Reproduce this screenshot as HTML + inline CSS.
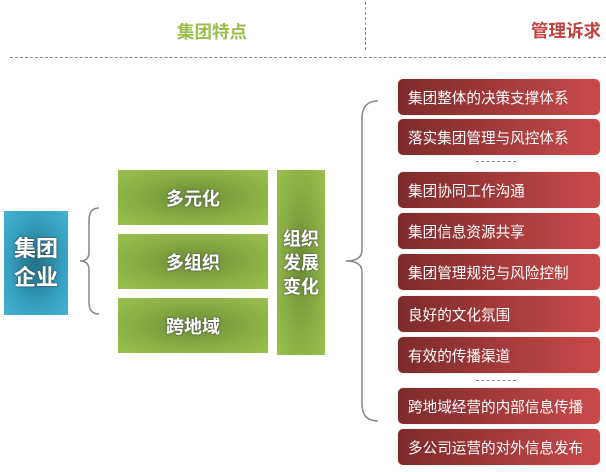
<!DOCTYPE html>
<html><head><meta charset="utf-8"><style>
body{margin:0;width:606px;height:472px;background:#fff;position:relative;overflow:hidden;font-family:"Liberation Sans","Noto Sans CJK SC",sans-serif}
.a{position:absolute;box-sizing:border-box;display:flex;align-items:center;justify-content:center;color:#fff;font-weight:bold}
.g{background:radial-gradient(ellipse at center,#6b8a34 0%,#8aad45 55%,#9cc04d 100%);font-size:18px;text-shadow:0 0 2px #444}
.r{left:398px;width:202px;height:36px;border-radius:5px;background:linear-gradient(90deg,#7d2a2c,#c94a4a);justify-content:flex-start;padding-left:10px;font-weight:normal;font-size:14.6px;box-shadow:0 0 1px #caa}
.d{position:absolute;left:476px;width:40px;border-top:1px dashed #888}
</style></head><body>
<div class="a" style="left:177px;top:19px;font-size:17.5px;color:#9bbd4a">集团特点</div>
<div class="a" style="left:531px;top:18px;font-size:17.5px;color:#c0413f">管理诉求</div>
<div style="position:absolute;left:365px;top:2px;height:48px;border-left:1px dashed #888"></div>
<div style="position:absolute;left:10px;top:57px;width:596px;border-top:1px dashed #888"></div>
<div class="a" style="left:4px;top:211px;width:64px;height:104px;background:radial-gradient(ellipse at center,#246f86 0%,#35a0c0 60%,#44b2d2 100%);font-size:22px;line-height:29px;text-align:center;text-shadow:0 0 2px #333">集团<br>企业</div>
<svg style="position:absolute;left:0;top:0" width="606" height="472">
<path d="M99 208 Q89 208 89 220 L89 252 Q89 261 80 261 Q89 261 89 270 L89 302 Q89 314 99 314" fill="none" stroke="#888" stroke-width="1.5"/>
<path d="M378 101 Q362 101 362 118 L362 250 Q362 261 346 261 Q362 261 362 272 L362 404 Q362 421 378 421" fill="none" stroke="#888" stroke-width="1.5"/>
</svg>
<div class="a g" style="left:118px;top:170px;width:150px;height:55px">多元化</div>
<div class="a g" style="left:118px;top:234px;width:150px;height:55px">多组织</div>
<div class="a g" style="left:118px;top:298px;width:150px;height:55px">跨地域</div>
<div class="a g" style="left:277px;top:170px;width:48px;height:185px;line-height:24px;text-align:center;font-size:18px">组织<br>发展<br>变化</div>
<div class="a r" style="top:79px">集团整体的决策支撑体系</div>
<div class="a r" style="top:119px">落实集团管理与风控体系</div>
<div class="d" style="top:161px"></div>
<div class="a r" style="top:172px">集团协同工作沟通</div>
<div class="a r" style="top:213px">集团信息资源共享</div>
<div class="a r" style="top:254px">集团管理规范与风险控制</div>
<div class="a r" style="top:296px">良好的文化氛围</div>
<div class="a r" style="top:337px">有效的传播渠道</div>
<div class="d" style="top:380px"></div>
<div class="a r" style="top:388px">跨地域经营的内部信息传播</div>
<div class="a r" style="top:429px">多公司运营的对外信息发布</div>
</body></html>
